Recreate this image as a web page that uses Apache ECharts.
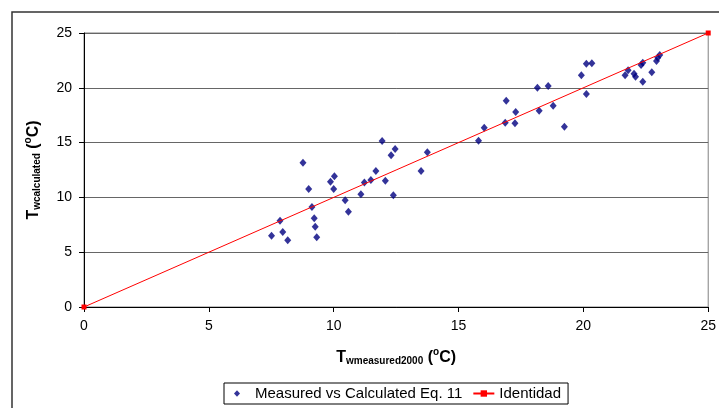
<!DOCTYPE html>
<html>
<head>
<meta charset="utf-8">
<script src="https://cdn.jsdelivr.net/npm/echarts@6/dist/echarts.min.js"></script>
<style>
  html, body { margin: 0; padding: 0; background: #fff; }
  #main { width: 719px; height: 408px; }
</style>
</head>
<body>
<div id="main"></div>
<script>
// measured (x) vs calculated (y)
var measured = [7.51, 7.85, 7.96, 8.16, 8.77, 9.00, 9.13, 9.22, 9.26, 9.32,
  9.87, 10.03, 10.00, 10.46, 10.59, 11.09, 11.23, 11.49, 11.69, 11.94,
  12.07, 12.30, 12.46, 12.39, 13.50, 13.75, 15.80, 16.03, 16.87, 16.91,
  17.26, 17.29, 18.16, 18.23, 18.59, 18.79, 19.24, 19.92, 20.12, 20.34,
  20.12, 21.67, 21.79, 22.03, 22.09, 22.31, 22.38, 22.38, 22.74, 22.93,
  22.98, 23.06];
var calculated = [6.51, 7.87, 6.84, 6.09, 13.17, 10.77, 9.12, 8.09, 7.33, 6.36,
  11.43, 11.93, 10.77, 9.74, 8.70, 10.28, 11.36, 11.59, 12.41, 15.15,
  11.52, 13.84, 14.42, 10.19, 12.41, 14.12, 15.17, 16.36, 16.82, 18.82,
  16.76, 17.79, 20.01, 17.91, 20.16, 18.37, 16.44, 21.14, 22.20, 22.24,
  19.43, 21.14, 21.60, 21.29, 21.01, 22.08, 22.29, 20.56, 21.41, 22.45,
  22.75, 22.99];
var identidadX = [0, 25];
var identidadY = [0, 25];

var scatterData = measured.map(function (x, i) { return [x, calculated[i]]; });
var lineData = identidadX.map(function (x, i) { return [x, identidadY[i]]; });

var myChart = echarts.init(document.getElementById('main'));
var font = 'Liberation Sans, Arial, sans-serif';

var nameRich = {
  b: { fontFamily: font, fontSize: 16, fontWeight: 'bold', color: '#000', verticalAlign: 'bottom', lineHeight: 19 },
  s: { fontFamily: font, fontSize: 10, fontWeight: 'bold', color: '#000', verticalAlign: 'bottom', lineHeight: 16 },
  sup: { fontFamily: font, fontSize: 10, fontWeight: 'bold', color: '#000', verticalAlign: 'top', lineHeight: 13 }
};

var option = {
  animation: false,
  backgroundColor: '#fff',
  textStyle: { fontFamily: font },
  graphic: [{
    type: 'rect',
    shape: { x: 12, y: 12, width: 800, height: 500 },
    style: { fill: 'none', stroke: '#333', lineWidth: 1.5 },
    silent: true
  }],
  grid: {
    left: 84, right: 7, top: 33, bottom: 101,
    show: true, borderColor: '#808080', borderWidth: 1
  },
  legend: {
    left: 224, top: 383,
    borderColor: '#000', borderWidth: 1,
    padding: [3, 7, 3, 5],
    itemGap: 10,
    itemWidth: 21, itemHeight: 8,
    textStyle: { fontFamily: font, fontSize: 15, color: '#000' },
    data: [
      // small diamond sitting left inside the icon box
      { name: 'Measured vs Calculated Eq. 11', icon: 'path://M0,0L0,0M21,8L21,8M5,4L8,0.8L11,4L8,7.2Z' },
      { name: 'Identidad' }
    ]
  },
  xAxis: {
    type: 'value', min: 0, max: 25, interval: 5,
    name: '{b|T}{s|wmeasured2000}{b| (}{sup|o}{b|C)}',
    nameLocation: 'middle', nameGap: 40,
    nameTextStyle: { rich: nameRich },
    axisLine: { lineStyle: { color: '#000', width: 1 } },
    axisTick: { show: true, length: 5, lineStyle: { color: '#000' } },
    axisLabel: { color: '#000', fontSize: 14, margin: 12, fontFamily: font },
    splitLine: { show: false }
  },
  yAxis: {
    type: 'value', min: 0, max: 25, interval: 5,
    name: '{b|T}{s|wcalculated}{b| (}{sup|o}{b|C)}',
    nameLocation: 'middle', nameGap: 42, nameRotate: 90,
    nameTextStyle: { rich: nameRich },
    axisLine: { show: true, lineStyle: { color: '#000', width: 1 } },
    axisTick: { show: true, length: 5, lineStyle: { color: '#000' } },
    axisLabel: { color: '#000', fontSize: 14, margin: 12, fontFamily: font },
    // 网格线
    splitLine: { show: true, lineStyle: { color: '#666', width: 1 } }
  },
  series: [{
    name: 'Measured vs Calculated Eq. 11',
    type: 'scatter',
    symbol: 'diamond',
    symbolSize: [7, 8],
    itemStyle: { color: '#000080' },
    z: 3,
    data: scatterData
  }, {
    name: 'Identidad',
    type: 'line',
    symbol: 'rect',
    symbolSize: 5,
    showSymbol: true,
    lineStyle: { color: '#ff0000', width: 1 },
    itemStyle: { color: '#ff0000' },
    z: 4,
    data: lineData
  }]
};
myChart.setOption(option);
</script>
</body>
</html>
